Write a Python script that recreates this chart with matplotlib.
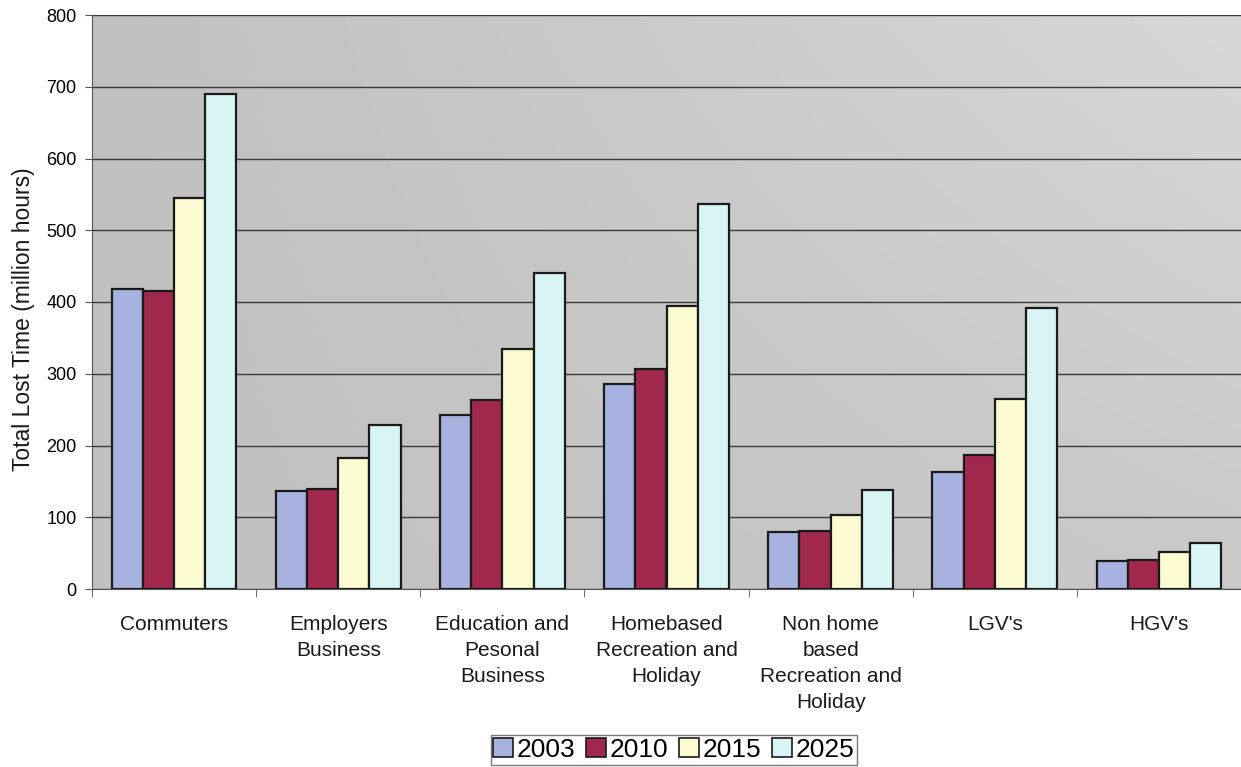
import numpy as np
import matplotlib
matplotlib.use("Agg")
import matplotlib.pyplot as plt
from matplotlib.patches import Patch

categories = ["Commuters", "Employers\nBusiness", "Education and\nPesonal\nBusiness",
              "Homebased\nRecreation and\nHoliday", "Non home\nbased\nRecreation and\nHoliday",
              "LGV's", "HGV's"]
years = ["2003", "2010", "2015", "2025"]
v2003 = [418, 137, 243, 286, 80, 163, 39]
v2010 = [416, 140, 264, 306, 81, 187, 40]
v2015 = [545, 182, 335, 394, 103, 265, 52]
v2025 = [690, 229, 441, 536, 138, 392, 64]
series = [v2003, v2010, v2015, v2025]
colors = ["#a8b2e0", "#a0284c", "#fdfbd2", "#d8f4f4"]

plt.rcParams['font.family'] = ['Liberation Sans', 'DejaVu Sans']

fig = plt.figure(figsize=(12.41, 7.67), dpi=100)
ax = fig.add_axes([92/1241, 1-589/767, 1-92/1241, (589-15)/767])

# gradient background
ny, nx = 50, 100
xx = np.linspace(0, 1, nx)
yy = np.linspace(0, 1, ny)
X, Y = np.meshgrid(xx, yy)
G = 0.75 + 0.09 * X * (0.4 + 0.6 * Y)
ax.imshow(G, extent=(-0.5, 6.5, 0, 800), origin='lower', cmap='gray', vmin=0, vmax=1,
          aspect='auto', zorder=0, interpolation='bilinear')

x = np.arange(len(categories))
w = 0.19
for i, (vals, c, yr) in enumerate(zip(series, colors, years)):
    ax.bar(x + (i - 1.5) * w, vals, width=w, color=c, edgecolor='#1a1a1a', linewidth=1.6,
           zorder=3, label=yr)

ax.set_xlim(-0.5, 6.5)
ax.set_ylim(0, 800)
ax.set_yticks(range(0, 801, 100))
ax.yaxis.grid(True, color='#3a3a3a', linewidth=1.0, zorder=1)
ax.set_axisbelow(True)
ax.tick_params(axis='y', labelsize=13, length=5, color='#555555', pad=6)
ax.set_xticks(x)
ax.set_xticklabels(categories, fontsize=15, linespacing=1.45, va='top', color='#1a1a1a')
ax.tick_params(axis='x', length=0, pad=19)
ax.set_xticks(np.arange(-0.5, 7, 1), minor=True)
ax.tick_params(axis='x', which='minor', length=6, color='#555555')
for s in ['top', 'right']:
    ax.spines[s].set_visible(False)
ax.spines['left'].set_color('#555555')
ax.spines['bottom'].set_color('#555555')
ax.set_ylabel("Total Lost Time (million hours)", fontsize=16.5, color='#1a1a1a')
ax.yaxis.set_label_coords(-0.050, 0.47)

handles = [Patch(facecolor=c, edgecolor='#1a1a1a', linewidth=1.2) for c in colors]
leg = fig.legend(handles, years, loc='center', bbox_to_anchor=(674/1241, 1-750/767), ncol=4,
                 fontsize=19, frameon=True, fancybox=False, edgecolor='#555555',
                 handlelength=0.75, handleheight=0.75, handletextpad=0.15, columnspacing=0.4,
                 borderpad=0.1, borderaxespad=0)
fig.savefig("out.png", dpi=100, facecolor='white')
